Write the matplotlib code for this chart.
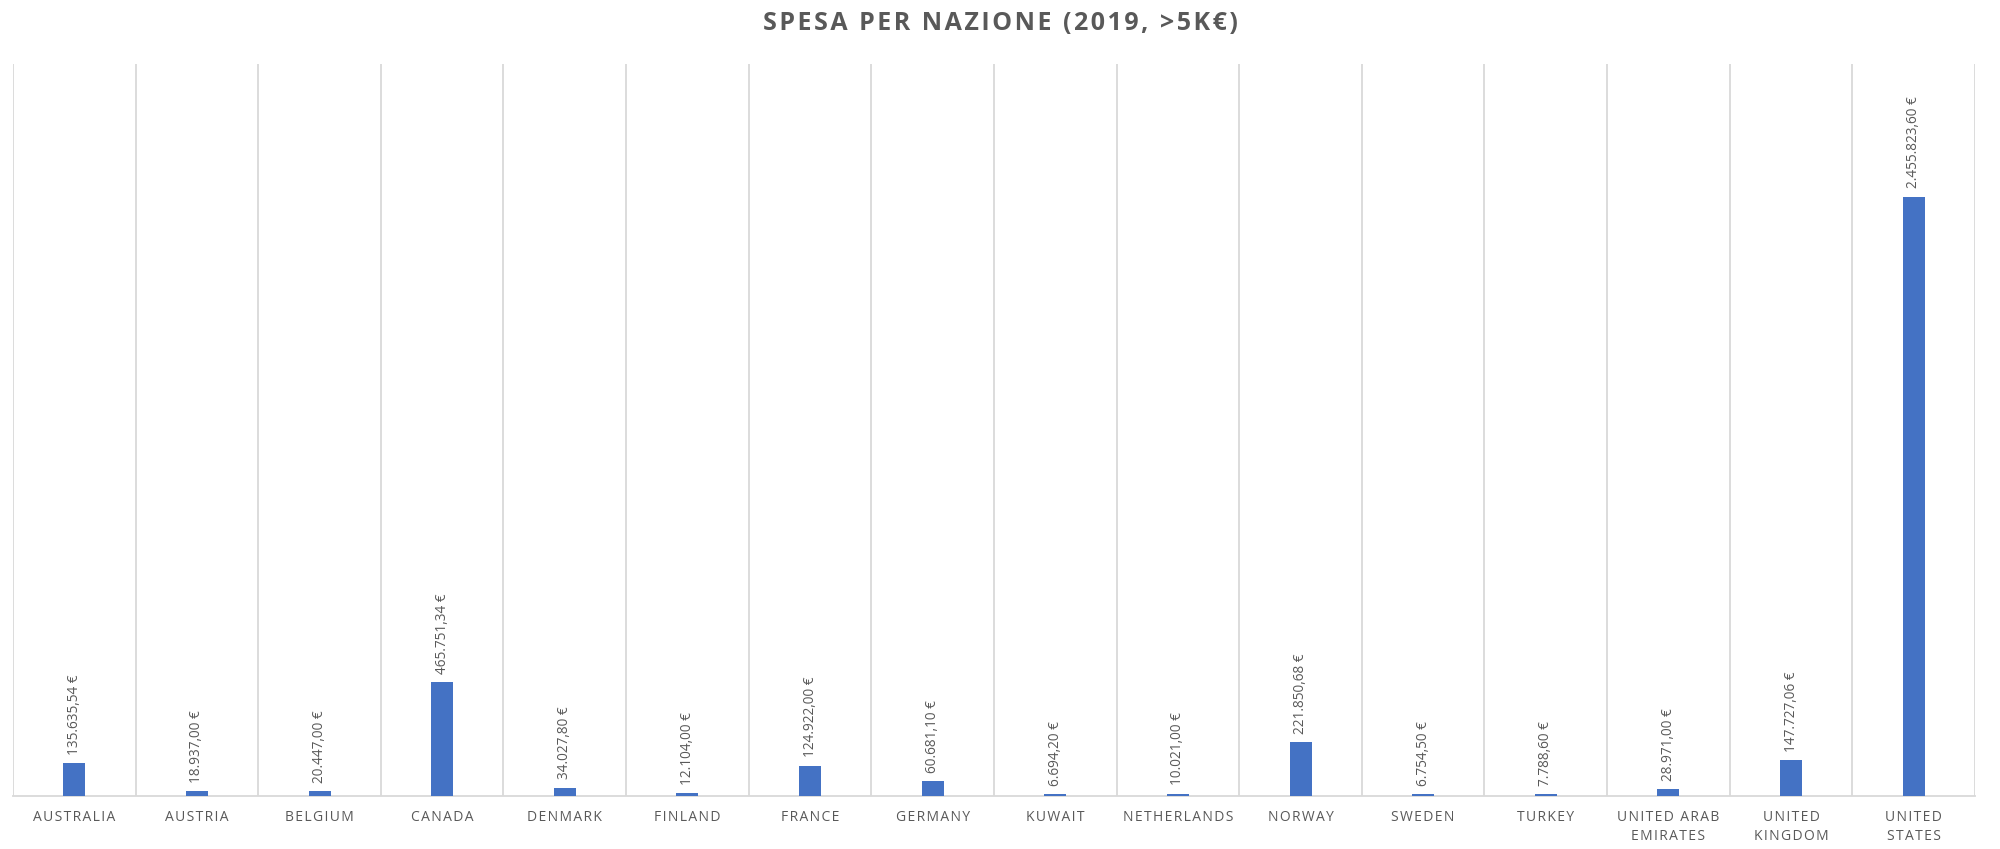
import numpy as np
import matplotlib.pyplot as plt

# Data
nazioni = ['AUSTRALIA', 'AUSTRIA', 'BELGIUM', 'CANADA', 'DENMARK', 'FINLAND',
           'FRANCE', 'GERMANY', 'KUWAIT', 'NETHERLANDS', 'NORWAY', 'SWEDEN',
           'TURKEY', 'UNITED ARAB\nEMIRATES', 'UNITED\nKINGDOM', 'UNITED\nSTATES']
spesa = [135635.54, 18937.00, 20447.00, 465751.34, 34027.80, 12104.00,
         124922.00, 60681.10, 6694.20, 10021.00, 221850.68, 6754.50,
         7788.60, 28971.00, 147727.06, 2455823.60]


def euro(v):
    # Italian formatting: 1.234,56 €
    s = f"{v:,.2f}"
    s = s.replace(',', 'X').replace('.', ',').replace('X', '.')
    return s + ' €'


def spaced(s, sep='\u200a'):
    # fake letter spacing like Excel's axis labels
    return '\n'.join(sep.join(line) for line in s.split('\n'))


plt.rcParams['font.family'] = ['Open Sans', 'DejaVu Sans']

fig = plt.figure(figsize=(20, 8.49), dpi=100)
ax = fig.add_axes([0.0065, 0.0624, 0.981, 0.8622])

x = np.arange(len(nazioni))
bars = ax.bar(x, spesa, width=0.18, color='#4472C4', zorder=3)

for xi, v in zip(x, spesa):
    ax.annotate(euro(v), (xi, v), xytext=(0, 6), textcoords='offset points',
                rotation=90, ha='center', va='bottom', fontsize=9.8,
                color='#595959')

ax.set_xlim(-0.5, len(nazioni) - 0.5)
ax.set_ylim(0, 3000000)

# vertical gridlines between categories
ax.set_xticks(np.arange(-0.5, len(nazioni)), minor=True)
ax.grid(which='minor', axis='x', color='#d9d9d9', linewidth=1.3, zorder=0)
ax.tick_params(which='both', length=0)
ax.set_xticks(x)
ax.set_xticklabels([spaced(n) for n in nazioni], fontsize=10, color='#595959',
                   linespacing=1.35)
ax.tick_params(axis='x', pad=10)
ax.set_yticks([])

for side in ['left', 'right', 'top']:
    ax.spines[side].set_visible(False)
ax.spines['bottom'].set_color('#d9d9d9')
ax.spines['bottom'].set_linewidth(1.3)

fig.suptitle(spaced('SPESA PER NAZIONE (2019, >5K€)'), y=0.987, fontsize=18,
             fontweight='bold', color='#595959')

fig.savefig('out.png', dpi=100)
